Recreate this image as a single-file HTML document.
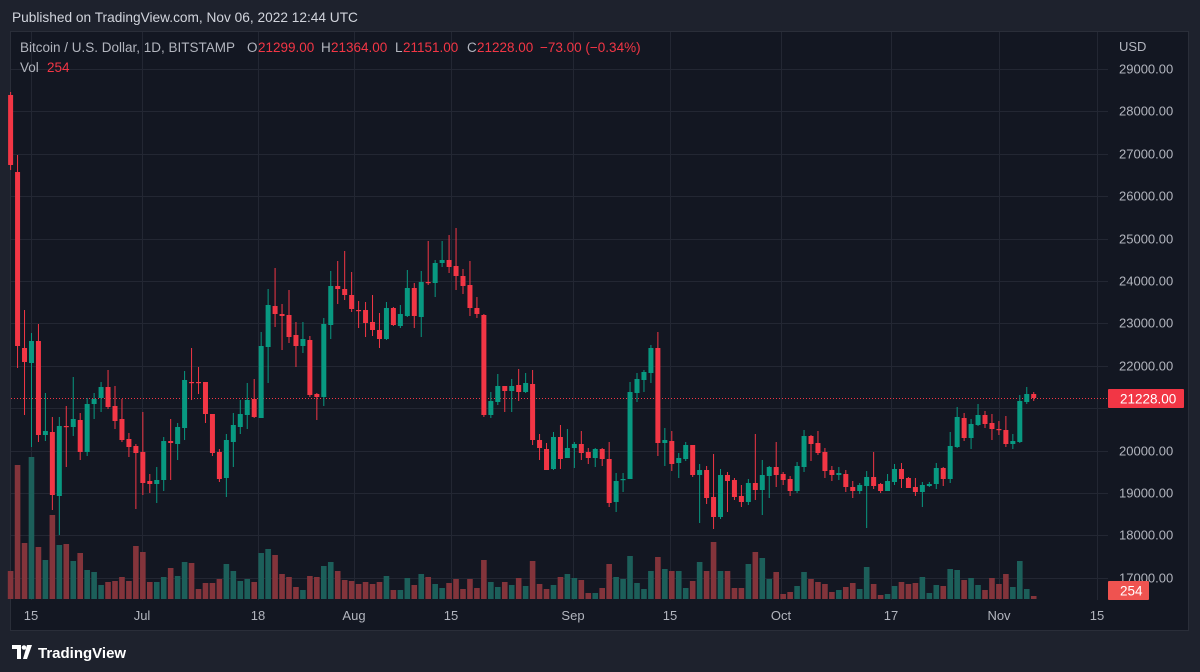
<!DOCTYPE html>
<html><head><meta charset="utf-8"><style>
html,body{margin:0;padding:0;background:#1e222d;width:1200px;height:672px;overflow:hidden;font-family:"Liberation Sans",sans-serif;}
svg{position:absolute;left:0;top:0}
</style></head><body>
<svg id="s" width="1200" height="672" xmlns="http://www.w3.org/2000/svg" font-family="Liberation Sans, sans-serif">
<rect x="0" y="0" width="1200" height="672" fill="#1e222d"/>
<text x="12" y="22" fill="#d1d4dc" font-size="13.7">Published on TradingView.com, Nov 06, 2022 12:44 UTC</text>
<rect x="10.5" y="31.5" width="1178" height="599" fill="#131722" stroke="#2a2e39"/>
<g id="grid" stroke="#232733" stroke-width="1"></g>
<g id="vol"></g>
<line x1="11" y1="398.5" x2="1108" y2="398.5" stroke="#f23645" stroke-dasharray="1,2" stroke-width="1"/>
<g id="cdl"></g>
<g id="lbl" fill="#b2b5be" font-size="13"></g>
<text x="1119" y="51" fill="#b2b5be" font-size="13">USD</text>
<rect x="1108" y="389" width="76" height="19" fill="#f23645" rx="1"/>
<text x="1120" y="403.5" fill="#ffffff" font-size="13.5">21228.00</text>
<rect x="1108" y="581" width="41" height="19" fill="#ef5350" rx="1"/>
<text x="1120" y="595.5" fill="#ffffff" font-size="13.5">254</text>
<text y="52" font-size="13.5" fill="#b2b5be"><tspan x="20">Bitcoin / U.S. Dollar, 1D, BITSTAMP</tspan><tspan x="247">O</tspan><tspan x="258" fill="#f23645">21299.00</tspan><tspan x="321">H</tspan><tspan x="331" fill="#f23645">21364.00</tspan><tspan x="395">L</tspan><tspan x="403" fill="#f23645">21151.00</tspan><tspan x="467">C</tspan><tspan x="477" fill="#f23645">21228.00</tspan><tspan x="540" fill="#f23645">−73.00 (−0.34%)</tspan></text>
<text y="72" font-size="13.5" fill="#b2b5be"><tspan x="20">Vol</tspan><tspan x="47" fill="#f23645">254</tspan></text>
<g fill="#ffffff">
<path d="M12 645h9v14h-4v-10h-5z"/>
<circle cx="24" cy="647.5" r="2.3"/>
<path d="M27 645h5l-5 14h-4z"/>
</g>
<text x="38" y="658" fill="#ffffff" font-size="15" font-weight="bold">TradingView</text>
</svg>
<script>
const NS="http://www.w3.org/2000/svg";
function el(p,t,a){const e=document.createElementNS(NS,t);for(const k in a)e.setAttribute(k,a[k]);document.getElementById(p).appendChild(e);return e;}
const prices=[[29000,69],[28000,111],[27000,154],[26000,196],[25000,239],[24000,281],[23000,323],[22000,366],[21000,408],[20000,451],[19000,493],[18000,535],[17000,578]];
prices.forEach(p=>{el("grid","line",{x1:11,x2:1108,y1:p[1]+.5,y2:p[1]+.5});if(p[0]!==21000){const t=el("lbl","text",{x:1119,y:p[1]+4.5});t.textContent=p[0]+".00";}});
const tx=[[31,"15"],[142,"Jul"],[258,"18"],[354,"Aug"],[451,"15"],[573,"Sep"],[670,"15"],[781,"Oct"],[891,"17"],[999,"Nov"],[1097,"15"]];
tx.forEach(t=>{el("grid","line",{x1:t[0]+.5,x2:t[0]+.5,y1:32,y2:600});const e=el("lbl","text",{x:t[0],y:620,"text-anchor":"middle"});e.textContent=t[1];});
const C=[[95,165,92,170],[172,346,155,368],[348,362,310,415],[363,341,333,447],[341,435,324,442],[435,431,393,441],[432,495,417,510],[496,426,417,535],[426,427,406,467],[427,419,377,436],
[420,452,413,460],[452,404,398,456],[404,399,393,419],[398,387,382,412],[387,407,370,409],[406,421,386,429],[419,440,399,442],[439,447,433,457],[446,453,444,509],[452,483,412,495],
[481,484,474,493],[484,480,467,503],[480,441,437,491],[441,443,419,480],[444,427,423,460],[428,380,371,440],[382,383,348,400],[382,383,367,394],[382,414,382,423],[414,453,414,456],
[452,479,449,482],[478,440,434,497],[442,425,413,467],[427,414,400,434],[415,400,383,429],[399,417,379,418],[418,346,332,418],[347,305,289,383],[306,314,268,327],[314,316,304,350],
[315,337,290,343],[335,346,322,367],[346,339,322,353],[340,395,336,397],[394,397,393,420],[397,324,318,406],[325,286,271,339],[286,289,261,304],[289,295,251,300],[295,309,272,312],
[310,311,301,328],[310,323,302,337],[322,330,295,336],[330,339,313,348],[339,308,302,340],[308,325,307,326],[326,314,305,328],[316,288,270,317],[288,316,283,328],[317,282,271,337],
[282,283,241,285],[283,263,260,297],[263,260,241,267],[260,267,235,273],[266,276,228,290],[276,286,269,294],[285,308,261,316],[308,314,297,318],[315,415,314,417],[415,401,392,418],
[402,386,374,405],[386,391,386,412],[391,386,379,412],[385,392,369,401],[392,383,373,393],[384,440,370,445],[440,448,434,460],[449,470,443,470],[469,437,432,470],[437,459,425,469],
[458,448,429,458],[448,444,442,468],[444,453,431,460],[452,458,448,464],[458,449,448,467],[449,459,448,466],[459,503,442,507],[502,481,473,512],[480,479,473,492],[479,392,382,479],
[393,379,373,402],[380,372,370,392],[373,348,345,383],[348,443,332,456],[443,440,428,466],[441,464,431,471],[463,458,453,478],[459,445,442,461],[445,475,445,477],[475,470,464,523],
[470,498,466,504],[497,517,454,529],[517,475,469,519],[475,481,472,512],[480,497,478,500],[496,502,485,507],[502,483,479,505],[483,490,434,500],[490,475,460,515],[476,467,466,498],
[467,475,442,487],[474,480,472,485],[479,491,476,496],[491,466,462,493],[467,436,430,472],[436,444,435,461],[443,453,431,455],[452,471,448,478],[470,475,466,481],[475,473,467,480],
[474,487,470,492],[487,491,481,498],[491,485,483,494],[486,477,471,528],[477,486,452,489],[484,491,483,493],[491,481,474,491],[482,469,464,485],[469,479,463,488],[478,488,477,488],
[487,492,478,496],[492,485,482,507],[486,484,482,487],[484,468,463,489],[468,479,467,486],[479,446,432,483],[447,417,407,448],[418,438,413,441],[438,424,419,449],[425,415,404,426],
[415,424,411,428],[423,429,414,440],[429,430,421,435],[430,444,416,447],[444,441,434,449],[442,401,395,443],[402,394,387,404],[394,398,392,401]];
const V=[571,465,543,457,547,560,515,545,544,561,553,570,572,585,582,581,577,581,546,552,582,582,577,568,576,562,563,589,583,583,579,564,571,581,579,582,553,549,555,574,577,587,590,576,577,566,562,571,580,581,584,582,584,582,576,590,590,578,585,574,577,584,588,583,579,589,579,588,560,582,587,582,585,578,586,
561,584,589,585,577,574,578,580,593,593,588,564,577,579,556,583,589,571,557,569,571,571,588,581,562,571,542,571,571,588,588,564,552,558,579,572,594,592,586,572,579,582,584,592,590,587,583,589,567,584,595,594,586,582,584,583,577,593,585,586,569,570,580,578,585,590,578,584,574,587,561,589,596];
const x0=10.6,st=6.96;
C.forEach((c,i)=>{const x=x0+i*st;const up=c[1]<c[0];const col=up?"#089981":"#f23645";
 const v=V[i]!==undefined?V[i]:585;
 el("vol","rect",{x:x-2.8,y:v,width:5.6,height:599-v,fill:up?"#1c5f5a":"#83343b"});
 el("cdl","line",{x1:x,x2:x,y1:c[2],y2:c[3],stroke:col,"stroke-width":1});
 const t=Math.min(c[0],c[1]),b=Math.max(c[0],c[1]);
 el("cdl","rect",{x:x-2.5,y:t,width:5,height:Math.max(1.2,b-t),fill:col});
});
</script>
</body></html>
